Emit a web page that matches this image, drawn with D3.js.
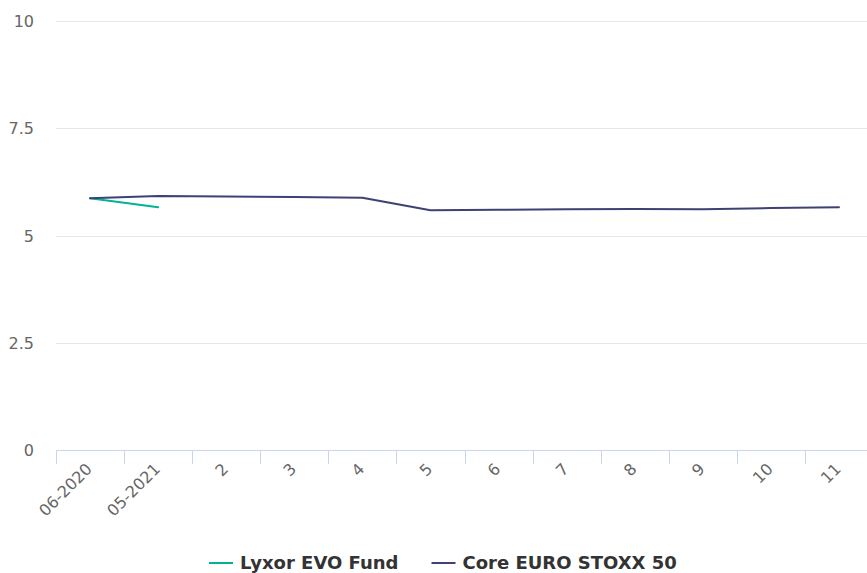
<!DOCTYPE html>
<html>
<head>
<meta charset="utf-8">
<script src="https://cdn.jsdelivr.net/npm/d3@7"></script>
<style>
  body { margin: 0; background: #fff; }
  svg { display: block; font-family: "DejaVu Sans", sans-serif; }
</style>
</head>
<body>
<div id="chart"></div>
<script>
// categories + series values
var categories = ["06-2020", "05-2021", "2", "3", "4", "5", "6", "7", "8", "9", "10", "11"]
var lyxorValues = [5.87, 5.66]
var coreValues = [5.87, 5.92, 5.91, 5.90, 5.88, 5.59, 5.60, 5.61, 5.62, 5.61, 5.64, 5.66]
var yTicks = [0, 2.5, 5, 7.5, 10]
var seriesNames = ["Lyxor EVO Fund", "Core EURO STOXX 50"]
var seriesColors = ["#00b398", "#3e4174"]

var W = 867, H = 573
var margin = {top: 21, left: 56}
var plotBottom = 450
var plotRight = 873 // the last band runs past the window edge

var svg = d3.select("#chart").append("svg").attr("width", W).attr("height", H)

var x = d3.scaleBand().domain(categories).range([margin.left, plotRight])
var y = d3.scaleLinear().domain([0, 10]).range([plotBottom, margin.top])

// grid
svg.append("g").selectAll("line").data(yTicks.filter(function(d){ return d > 0 })).enter()
  .append("line")
  .attr("x1", margin.left).attr("x2", W)
  .attr("y1", function(d){ return Math.round(y(d)) + 0.5 })
  .attr("y2", function(d){ return Math.round(y(d)) + 0.5 })
  .style("stroke", "#e6e6e6").style("stroke-width", 1)

// y labels
svg.append("g").selectAll("text").data(yTicks).enter()
  .append("text")
  .attr("x", 34).attr("y", function(d){ return y(d) + 6 })
  .attr("text-anchor", "end")
  .style("font-size", "16px").style("fill", "#666")
  .text(function(d){ return d })

// x axis line + ticks
var xg = svg.append("g")
xg.append("line")
  .attr("x1", margin.left).attr("x2", W)
  .attr("y1", plotBottom + 0.5).attr("y2", plotBottom + 0.5)
  .style("stroke", "#ccd6eb")
var tickPos = categories.map(function(c){ return x(c) }).concat([x.range()[1]])
xg.selectAll(".tick").data(tickPos).enter().append("line")
  .attr("class", "tick")
  .attr("x1", function(d){ return Math.round(d) + 0.5 }).attr("x2", function(d){ return Math.round(d) + 0.5 })
  .attr("y1", plotBottom).attr("y2", plotBottom + 14)
  .style("stroke", "#ccd6eb")

xg.selectAll(".xlabel").data(categories).enter().append("text")
  .attr("class", "xlabel")
  .attr("transform", function(d){
    var cx = x(d) + x.bandwidth() / 2 + 3
    return "translate(" + cx + "," + (plotBottom + 20) + ") rotate(-45)"
  })
  .attr("text-anchor", "end")
  .style("font-size", "16px").style("fill", "#666")
  .text(function(d){ return d })

// lines
var line = d3.line()
  .x(function(d, i){ return x(categories[i]) + x.bandwidth() / 2 })
  .y(function(d){ return y(d) })

var series = [lyxorValues, coreValues]
series.forEach(function(vals, k){
  svg.append("path").datum(vals)
    .attr("d", line)
    .style("fill", "none")
    .style("stroke", seriesColors[k])
    .style("stroke-width", 2)
    .style("stroke-linejoin", "round")
    .style("stroke-linecap", "round")
})

// legend
var legend = svg.append("g")
var lx = 209, ly = 563
seriesNames.forEach(function(name, k){
  var item = legend.append("g").attr("transform", "translate(" + lx + "," + ly + ")")
  item.append("line").attr("x1", 0).attr("x2", 24).attr("y1", 0).attr("y2", 0)
    .style("stroke", seriesColors[k]).style("stroke-width", 2)
  var t = item.append("text").attr("x", 31).attr("y", 6)
    .style("font-size", "18px").style("font-weight", "bold").style("fill", "#333")
    .text(name)
  lx += 31 + t.node().getComputedTextLength() + 33
})
</script>
</body>
</html>
